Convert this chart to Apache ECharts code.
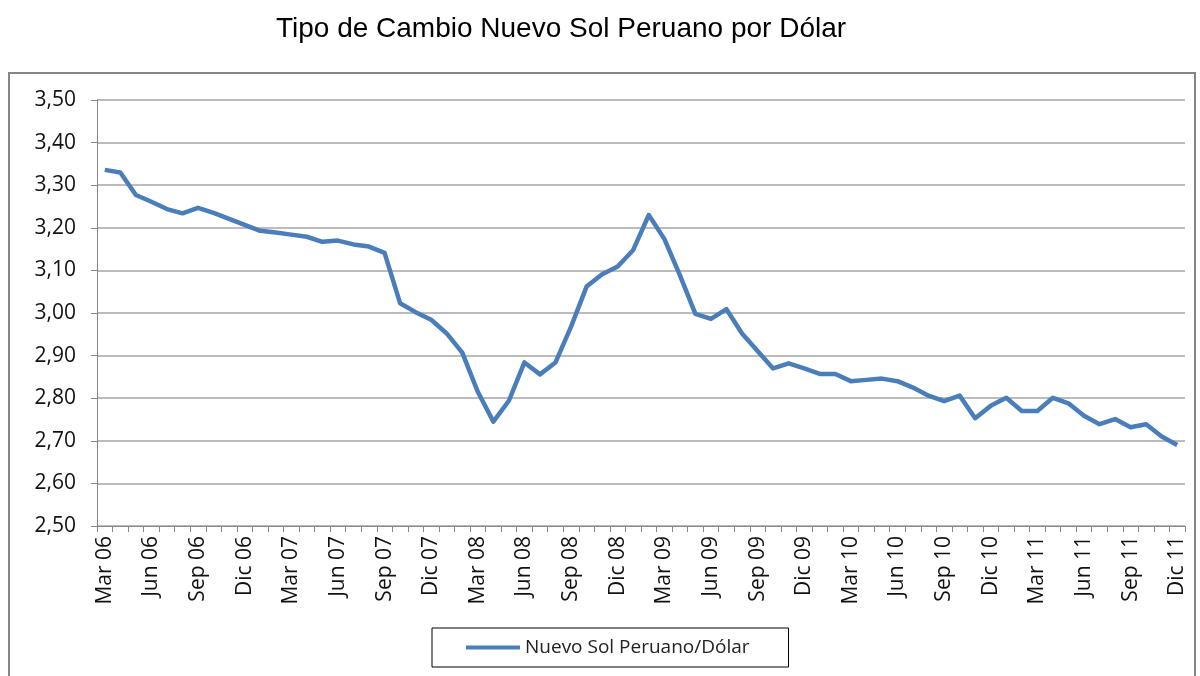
<!DOCTYPE html>
<html>
<head>
<meta charset="utf-8">
<script src="https://cdn.jsdelivr.net/npm/echarts@6/dist/echarts.min.js"></script>
<style>
  html, body { margin: 0; padding: 0; background: #fff; }
  #chart { width: 1200px; height: 676px; }
</style>
</head>
<body>
<div id="chart"></div>
<script>
// meses Mar 06 .. Dic 11
const monthNames = ['Ene', 'Feb', 'Mar', 'Abr', 'May', 'Jun', 'Jul', 'Ago', 'Sep', 'Oct', 'Nov', 'Dic']
const months = []
for (let y = 2006; y <= 2011; y++) {
  for (let m = 0; m < 12; m++) {
    if (y === 2006 && m < 2) continue
    months.push(monthNames[m] + ' ' + String(y).slice(2))
  }
}

// tipo de cambio
const solPorDolar = [
  3.336, 3.330, 3.277, 3.261, 3.244, 3.234, 3.247, 3.235, 3.221, 3.207,
  3.193, 3.189, 3.184, 3.179, 3.167, 3.170, 3.161, 3.156, 3.141, 3.023,
  3.002, 2.984, 2.952, 2.907, 2.815, 2.745, 2.794, 2.884, 2.856, 2.884,
  2.968, 3.062, 3.091, 3.109, 3.148, 3.230, 3.174, 3.089, 2.998, 2.986,
  3.009, 2.952, 2.911, 2.870, 2.882, 2.870, 2.857, 2.857, 2.840, 2.843,
  2.846, 2.840, 2.825, 2.806, 2.793, 2.806, 2.753, 2.782, 2.801, 2.770,
  2.770, 2.801, 2.788, 2.759, 2.739, 2.751, 2.732, 2.739, 2.710, 2.690
]

const chart = echarts.init(document.getElementById('chart'))

const option = {
  animation: false,
  title: {
    text: 'Tipo de Cambio Nuevo Sol Peruano por Dólar',
    left: 556,
    textAlign: 'center',
    top: 10,
    textStyle: {
      fontFamily: '"Liberation Sans Narrow", "Liberation Sans", sans-serif',
      fontSize: 28,
      fontWeight: 'normal',
      color: '#000'
    }
  },
  graphic: [
    {
      type: 'rect',
      shape: { x: 9, y: 73, width: 1186, height: 620 },
      style: { fill: 'none', stroke: '#868686', lineWidth: 2 },
      silent: true
    }
  ],
  legend: {
    data: ['Nuevo Sol Peruano/Dólar'],
    left: 432,
    top: 628,
    padding: [10, 39, 10, 34],
    borderColor: '#000',
    borderWidth: 1,
    itemWidth: 54,
    itemHeight: 4,
    itemGap: 8,
    icon: 'rect',
    textStyle: {
      fontFamily: '"Open Sans", sans-serif',
      fontSize: 19,
      color: '#222'
    }
  },
  grid: {
    left: 97,
    right: 15,
    top: 100,
    bottom: 150
  },
  xAxis: {
    type: 'category',
    data: months,
    boundaryGap: true,
    axisLine: { lineStyle: { color: '#868686', width: 1 } },
    axisTick: { show: true, interval: 0, length: 6, lineStyle: { color: '#868686' } },
    axisLabel: {
      interval: 2,
      rotate: 90,
      margin: 10,
      fontFamily: '"Open Sans", sans-serif',
      fontSize: 21,
      color: '#111'
    },
    splitLine: { show: false }
  },
  yAxis: {
    type: 'value',
    min: 2.5,
    max: 3.5,
    interval: 0.1,
    axisLine: { show: true, lineStyle: { color: '#868686', width: 1 } },
    axisTick: { show: true, length: 6, lineStyle: { color: '#868686' } },
    axisLabel: {
      margin: 21,
      fontFamily: '"Open Sans", sans-serif',
      fontSize: 21,
      color: '#111',
      formatter: v => v.toFixed(2).replace('.', ',')
    },
    splitLine: { show: true, lineStyle: { color: '#a6a6a6', width: 1.5 } }
  },
  series: [
    {
      name: 'Nuevo Sol Peruano/Dólar',
      type: 'line',
      data: solPorDolar,
      showSymbol: false,
      symbol: 'none',
      lineStyle: { color: '#4a7ebb', width: 4.5, join: 'round' },
      itemStyle: { color: '#4a7ebb' }
    }
  ]
}

chart.setOption(option)
window.addEventListener('resize', () => chart.resize())
</script>
</body>
</html>
